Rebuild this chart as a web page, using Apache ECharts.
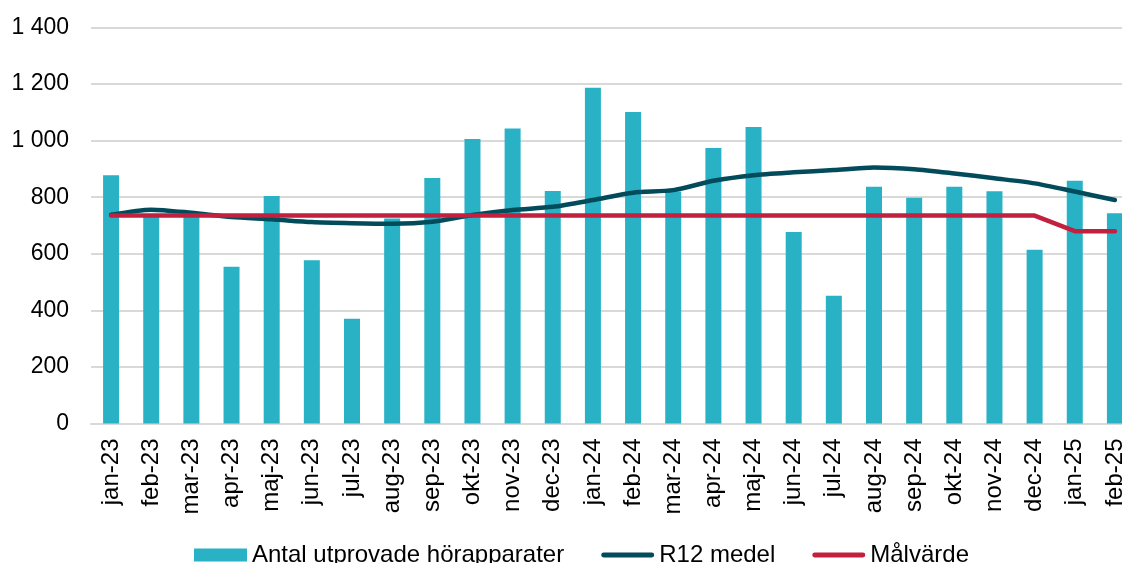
<!DOCTYPE html>
<html>
<head>
<meta charset="utf-8">
<script src="https://cdn.jsdelivr.net/npm/echarts@6/dist/echarts.min.js"></script>
<style>
html,body{margin:0;padding:0;background:#fff;}
#chart{width:1122px;height:563px;}
</style>
</head>
<body>
<div id="chart"></div>
<script>
const categories = ["jan-23","feb-23","mar-23","apr-23","maj-23","jun-23","jul-23","aug-23","sep-23","okt-23","nov-23","dec-23","jan-24","feb-24","mar-24","apr-24","maj-24","jun-24","jul-24","aug-24","sep-24","okt-24","nov-24","dec-24","jan-25","feb-25"];
const antal = [878,740,740,554,804,577,370,725,868,1006,1043,822,1187,1101,820,974,1048,677,452,837,798,837,821,614,858,743];
const r12 = [738,756,745,730,722,712,708,706,713,737,755,766,790,816,825,858,878,888,896,905,899,884,867,849,820,790];
const malvarde = [735,735,735,735,735,735,735,735,735,735,735,735,735,735,735,735,735,735,735,735,735,735,735,735,680,680];
const yTicks = {min:0, max:1400, interval:200};

const FONT = '"Liberation Sans", Arial, sans-serif';
const LINE_ICON = 'path://M2.5,0 H51.5 A2.5,2.5 0 0 1 51.5,5 H2.5 A2.5,2.5 0 0 1 2.5,0 Z';
const chart = echarts.init(document.getElementById('chart'), null, {renderer:'canvas'});
chart.setOption({
  animation:false,
  backgroundColor:'#ffffff',
  grid:{left:91, top:27.5, width:1044, height:396, outerBoundsMode:'none', containLabel:false},
  legend:{
    left:189, top:538,
    itemGap:37,
    itemWidth:53, itemHeight:13,
    textStyle:{fontFamily:FONT, fontSize:24, color:'#000'},
    data:[
      {name:'Antal utprovade hörapparater', icon:'rect'},
      {name:'R12 medel', icon:LINE_ICON, itemStyle:{color:'#024B5B'}},
      {name:'Målvärde', icon:LINE_ICON, itemStyle:{color:'#C2203F'}}
    ]
  },
  xAxis:{
    type:'category',
    data:categories,
    axisLine:{show:true, lineStyle:{color:'#d9d9d9', width:2}},
    axisTick:{show:false},
    axisLabel:{rotate:90, margin:15, interval:0, fontFamily:FONT, fontSize:24, color:'#000'}
  },
  yAxis:{
    type:'value',
    min:yTicks.min, max:yTicks.max, interval:yTicks.interval,
    axisLine:{show:false},
    axisTick:{show:false},
    splitLine:{lineStyle:{color:'#d9d9d9', width:2}},
    axisLabel:{
      margin:22, fontFamily:FONT, fontSize:23, color:'#000',
      formatter:v => String(v).replace(/\B(?=(\d{3})+(?!\d))/g,' ')
    }
  },
  series:[
    {name:'Antal utprovade hörapparater', type:'bar', data:antal, barWidth:16,
     itemStyle:{color:'#29B2C6'}},
    {name:'R12 medel', type:'line', data:r12, smooth:0.25, symbol:'none',
     lineStyle:{color:'#024B5B', width:4.5, cap:'round', join:'round'}, itemStyle:{color:'#024B5B'}},
    {name:'Målvärde', type:'line', data:malvarde, symbol:'none',
     lineStyle:{color:'#C2203F', width:4.5, cap:'round', join:'round'}, itemStyle:{color:'#C2203F'}}
  ]
});
</script>
</body>
</html>
